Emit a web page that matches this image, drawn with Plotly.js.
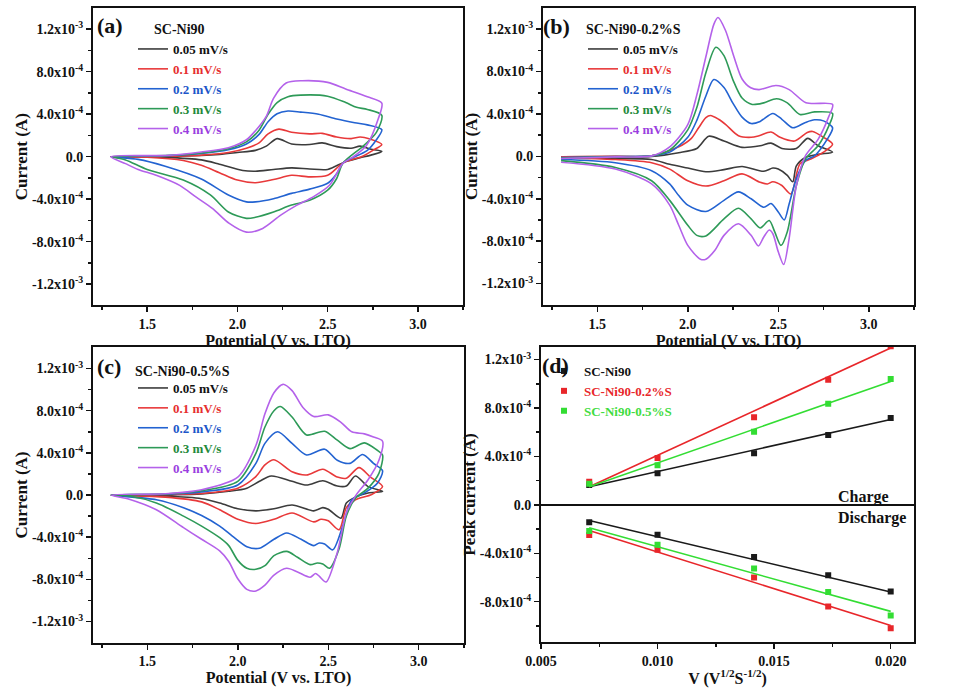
<!DOCTYPE html>
<html><head><meta charset="utf-8">
<script src="https://cdn.plot.ly/plotly-3.0.1.min.js"></script>
<style>html,body{margin:0;padding:0;background:#fff}#chart{width:960px;height:688px}</style>
</head><body><div id="chart"></div>
<script>
// ---------- data (potential in V, current in units of 1e-4 A) ----------
const UNIT = 1e-4;
const scanRates = ['0.05 mV/s', '0.1 mV/s', '0.2 mV/s', '0.3 mV/s', '0.4 mV/s'];

// (a) SC-Ni90
const a005 = [[1.3,0],[1.6,0.03],[1.8,0.12],[1.9,0.22],[2.0,0.4],[2.1,0.6],[2.16,1.0],[2.22,1.7],[2.3,1.2],[2.4,1.15],[2.47,1.3],[2.55,0.95],[2.63,0.8],[2.68,1.0],[2.74,0.7],[2.8,0.5],[2.74,0.15],[2.68,-0.1],[2.6,-0.45],[2.5,-1.2],[2.4,-1.15],[2.3,-1.05],[2.2,-1.2],[2.1,-1.37],[2.03,-1.3],[1.9,-0.7],[1.8,-0.3],[1.6,-0.06],[1.45,-0.02],[1.3,0]];
const a01 = [[1.3,0],[1.6,0.05],[1.8,0.15],[1.95,0.4],[2.05,0.8],[2.12,1.3],[2.17,2.15],[2.23,2.6],[2.3,2.3],[2.4,2.15],[2.47,2.2],[2.55,1.85],[2.63,1.7],[2.68,1.85],[2.73,1.7],[2.8,1.15],[2.75,0.6],[2.7,0.1],[2.585,-0.6],[2.5,-1.75],[2.4,-1.9],[2.3,-1.75],[2.2,-2.15],[2.1,-2.45],[2.0,-2.2],[1.9,-1.5],[1.8,-0.8],[1.7,-0.35],[1.5,-0.05],[1.3,0]];
const a02 = [[1.3,0],[1.6,0.08],[1.8,0.3],[1.95,0.65],[2.05,1.2],[2.12,2.1],[2.17,3.3],[2.22,4.05],[2.28,4.3],[2.35,4.2],[2.45,4.0],[2.55,3.55],[2.65,3.2],[2.72,3.0],[2.8,2.55],[2.77,1.6],[2.72,0.6],[2.585,-0.6],[2.55,-1.6],[2.5,-2.5],[2.4,-3.05],[2.3,-3.45],[2.2,-3.95],[2.1,-4.25],[2.05,-4.25],[1.95,-3.6],[1.8,-2.1],[1.6,-0.9],[1.45,-0.25],[1.3,0]];
const a03 = [[1.3,0],[1.6,0.1],[1.8,0.35],[1.95,0.75],[2.05,1.4],[2.12,2.5],[2.17,4.0],[2.22,5.1],[2.28,5.65],[2.35,5.8],[2.5,5.7],[2.6,5.1],[2.66,4.65],[2.72,4.45],[2.8,3.9],[2.77,2.3],[2.7,1.05],[2.585,-0.6],[2.55,-2.05],[2.5,-3.15],[2.4,-4.1],[2.3,-4.55],[2.2,-5.2],[2.1,-5.7],[2.05,-5.8],[1.95,-5.2],[1.85,-3.6],[1.7,-2.2],[1.5,-1.2],[1.38,-0.3],[1.3,0]];
const a04 = [[1.3,0],[1.6,0.12],[1.8,0.45],[1.95,0.85],[2.05,1.6],[2.1,2.45],[2.16,3.8],[2.2,5.5],[2.27,6.94],[2.36,7.15],[2.5,7.0],[2.6,6.38],[2.72,5.65],[2.8,5.05],[2.78,3.55],[2.715,1.06],[2.64,-0.03],[2.585,-0.6],[2.51,-2.69],[2.42,-3.78],[2.33,-4.56],[2.24,-5.5],[2.14,-6.75],[2.05,-7.1],[1.955,-6.28],[1.863,-4.88],[1.77,-3.78],[1.68,-2.7],[1.55,-1.75],[1.45,-1.2],[1.38,-0.65],[1.3,0]];

// (b) SC-Ni90-0.2%S
const b005 = [[1.3,-0.05],[1.6,-0.02],[1.8,0],[1.95,0.35],[2.05,0.75],[2.116,1.9],[2.2,1.45],[2.3,0.85],[2.4,1.0],[2.46,1.25],[2.52,0.75],[2.6,0.75],[2.663,1.7],[2.72,1.0],[2.8,0.4],[2.72,0.2],[2.65,-0.1],[2.6,-0.9],[2.58,-2.4],[2.55,-1.8],[2.5,-1.2],[2.47,-1.1],[2.42,-1.4],[2.3,-0.95],[2.2,-1.25],[2.1,-1.45],[2.0,-1.1],[1.9,-0.75],[1.8,-0.3],[1.6,-0.2],[1.3,-0.1]];
const b01 = [[1.3,-0.05],[1.6,0],[1.8,0.05],[1.95,0.9],[2.02,1.7],[2.06,2.7],[2.1,3.65],[2.125,3.85],[2.17,3.5],[2.21,3.0],[2.28,1.95],[2.35,1.8],[2.394,1.95],[2.46,2.3],[2.51,1.8],[2.59,1.45],[2.66,2.25],[2.69,2.35],[2.75,1.8],[2.8,1.15],[2.75,0.4],[2.68,-0.25],[2.62,-0.7],[2.57,-3.55],[2.52,-2.75],[2.47,-2.4],[2.44,-2.6],[2.4,-2.45],[2.3,-1.65],[2.2,-2.3],[2.1,-2.8],[2.0,-2.3],[1.9,-1.2],[1.8,-0.6],[1.6,-0.3],[1.3,-0.15]];
const b02 = [[1.3,-0.1],[1.6,-0.02],[1.8,0.05],[1.9,0.4],[2.0,1.8],[2.05,3.4],[2.1,5.7],[2.144,7.25],[2.2,6.5],[2.25,5.0],[2.3,3.7],[2.35,3.1],[2.4,3.3],[2.47,4.05],[2.52,3.5],[2.58,2.7],[2.65,3.2],[2.7,3.45],[2.75,3.35],[2.8,2.7],[2.77,1.6],[2.7,0.05],[2.65,-0.4],[2.6,-2.1],[2.56,-4.5],[2.533,-6.0],[2.5,-5.25],[2.46,-4.45],[2.42,-4.8],[2.35,-4.0],[2.28,-3.35],[2.2,-4.15],[2.1,-5.2],[2.0,-4.6],[1.95,-3.7],[1.9,-2.6],[1.8,-1.35],[1.6,-0.6],[1.3,-0.3]];
const b03 = [[1.3,-0.15],[1.6,-0.05],[1.8,0.05],[1.9,0.6],[2.0,2.5],[2.05,4.6],[2.1,7.9],[2.155,10.3],[2.2,9.5],[2.25,7.2],[2.3,5.5],[2.356,4.9],[2.42,5.05],[2.49,5.44],[2.55,5.05],[2.62,3.95],[2.7,4.2],[2.8,4.05],[2.78,2.9],[2.72,1.0],[2.65,-0.25],[2.6,-2.75],[2.55,-7.1],[2.515,-8.4],[2.48,-7.1],[2.45,-6.05],[2.4,-6.75],[2.35,-5.9],[2.28,-4.9],[2.2,-5.9],[2.1,-7.5],[2.05,-7.45],[2.0,-6.5],[1.9,-4.15],[1.8,-2.3],[1.6,-1.05],[1.3,-0.4]];
const b04 = [[1.3,-0.2],[1.6,-0.05],[1.8,0.05],[1.9,0.9],[2.0,3.0],[2.05,5.8],[2.1,9.4],[2.145,12.5],[2.167,13.1],[2.208,11.9],[2.255,9.4],[2.3,7.3],[2.348,6.47],[2.394,6.3],[2.487,6.68],[2.56,6.3],[2.653,5.06],[2.8,4.9],[2.78,3.8],[2.72,1.6],[2.65,0.05],[2.6,-2.75],[2.56,-7.75],[2.53,-10.2],[2.5,-9.0],[2.47,-7.3],[2.45,-6.95],[2.42,-7.6],[2.39,-8.45],[2.35,-7.45],[2.28,-6.35],[2.2,-7.45],[2.15,-8.85],[2.1,-9.7],[2.07,-9.7],[2.0,-8.4],[1.95,-6.5],[1.9,-4.6],[1.8,-2.6],[1.6,-1.2],[1.3,-0.55]];

// (c) SC-Ni90-0.5%S
const c005 = [[1.3,0],[1.6,0.03],[1.8,0.1],[1.95,0.35],[2.05,0.65],[2.12,1.3],[2.185,1.8],[2.3,1.3],[2.38,0.95],[2.47,1.35],[2.55,0.85],[2.6,0.85],[2.65,1.8],[2.72,0.8],[2.8,0.35],[2.72,0.2],[2.65,-0.2],[2.6,-0.75],[2.57,-2.2],[2.5,-1.35],[2.47,-1.2],[2.42,-1.5],[2.3,-0.95],[2.2,-1.3],[2.1,-1.5],[2.0,-1.3],[1.9,-0.75],[1.8,-0.35],[1.6,-0.1],[1.3,0]];
const c01 = [[1.3,0],[1.6,0.05],[1.8,0.15],[2.0,0.65],[2.1,1.75],[2.15,2.85],[2.2,3.35],[2.3,2.2],[2.38,1.9],[2.47,2.45],[2.55,1.7],[2.6,1.6],[2.67,2.6],[2.73,1.75],[2.8,0.8],[2.74,0.05],[2.65,-0.45],[2.6,-1.2],[2.56,-3.3],[2.5,-2.45],[2.46,-2.3],[2.42,-2.55],[2.3,-1.7],[2.2,-2.3],[2.1,-2.7],[2.0,-2.3],[1.9,-1.4],[1.8,-0.65],[1.6,-0.2],[1.3,0]];
const c02 = [[1.3,0],[1.6,0.08],[1.8,0.3],[2.0,0.95],[2.1,3.0],[2.15,4.9],[2.22,6.0],[2.3,4.9],[2.38,3.8],[2.48,4.35],[2.55,3.3],[2.62,3.0],[2.69,3.85],[2.75,3.0],[2.8,2.3],[2.77,1.1],[2.7,0.2],[2.63,-0.45],[2.58,-2.95],[2.525,-5.2],[2.48,-4.65],[2.45,-4.55],[2.42,-4.8],[2.35,-4.2],[2.27,-3.6],[2.2,-4.2],[2.12,-5.05],[2.05,-4.9],[1.97,-3.9],[1.9,-2.95],[1.8,-1.95],[1.7,-1.2],[1.55,-0.45],[1.3,0]];
const c03 = [[1.3,0],[1.6,0.1],[1.8,0.4],[2.0,1.3],[2.1,3.95],[2.15,6.45],[2.2,8.0],[2.235,8.4],[2.3,7.4],[2.38,5.7],[2.48,6.05],[2.55,5.2],[2.62,4.4],[2.7,4.95],[2.77,4.25],[2.8,3.8],[2.78,2.05],[2.72,0.65],[2.65,-0.3],[2.6,-2.0],[2.56,-5.1],[2.507,-6.95],[2.47,-6.55],[2.44,-6.45],[2.4,-6.6],[2.33,-5.9],[2.27,-5.35],[2.2,-5.75],[2.15,-6.7],[2.1,-7.05],[2.05,-6.95],[2.0,-6.2],[1.95,-4.8],[1.9,-4.05],[1.8,-2.95],[1.7,-2.0],[1.55,-0.75],[1.4,-0.1],[1.3,0]];
const c04 = [[1.3,0],[1.6,0.12],[1.8,0.5],[2.0,1.7],[2.1,4.7],[2.15,7.7],[2.2,9.7],[2.25,10.5],[2.3,9.9],[2.36,8.3],[2.42,7.45],[2.5,7.6],[2.57,6.9],[2.63,6.0],[2.7,5.8],[2.75,5.5],[2.8,5.1],[2.78,3.3],[2.72,1.45],[2.65,-0.1],[2.6,-1.7],[2.55,-5.45],[2.488,-8.25],[2.45,-7.7],[2.43,-7.45],[2.4,-7.8],[2.33,-7.3],[2.27,-6.95],[2.2,-7.6],[2.15,-8.55],[2.1,-9.1],[2.05,-8.95],[2.0,-7.95],[1.95,-6.3],[1.9,-5.3],[1.8,-4.2],[1.7,-3.1],[1.55,-1.4],[1.4,-0.4],[1.3,0]];

// (d) peak current vs square root of scan rate
const sqrtScan = [0.00707, 0.01, 0.01414, 0.01732, 0.02];
const chargeNi90 = [1.63, 2.6, 4.27, 5.77, 7.18];
const charge02S = [1.9, 3.86, 7.24, 10.34, 13.1];
const charge05S = [1.74, 3.27, 6.04, 8.35, 10.4];
const dischargeNi90 = [-1.44, -2.48, -4.3, -5.82, -7.16];
const discharge02S = [-2.5, -3.7, -6.0, -8.4, -10.2];
const discharge05S = [-2.15, -3.3, -5.25, -7.2, -9.15];
// linear fit lines, endpoints
const fitX = [0.00707, 0.02];
const fitChargeNi90 = [1.5, 7.05];
const fitCharge02S = [1.5, 12.95];
const fitCharge05S = [1.5, 10.18];
const fitDischargeNi90 = [-1.3, -7.2];
const fitDischarge02S = [-2.12, -9.96];
const fitDischarge05S = [-1.9, -8.8];
const materials = ['SC-Ni90', 'SC-Ni90-0.2%S', 'SC-Ni90-0.5%S'];

const cvYTickVals = [-1.2e-3, -8e-4, -4e-4, 0, 4e-4, 8e-4, 1.2e-3];
const cvYTickText = ['-1.2x10<sup>-3</sup>', '-8.0x10<sup>-4</sup>', '-4.0x10<sup>-4</sup>', '0.0', '4.0x10<sup>-4</sup>', '8.0x10<sup>-4</sup>', '1.2x10<sup>-3</sup>'];
const dYTickVals = [-8e-4, -4e-4, 0, 4e-4, 8e-4, 1.2e-3];
const dYTickText = ['-8.0x10<sup>-4</sup>', '-4.0x10<sup>-4</sup>', '0.0', '4.0x10<sup>-4</sup>', '8.0x10<sup>-4</sup>', '1.2x10<sup>-3</sup>'];

// ---------- styles ----------
const FAM = '"Liberation Serif", "Times New Roman", serif';
const INK = '#111111';
const cvColors = ['#3c3c3c', '#e8393a', '#2363d1', '#2e9a58', '#b462ea'];
const cvTextColors = ['#111111', '#e62e2e', '#1d56c9', '#23893a', '#9b3fe0'];
const dColors = ['#1a1a1a', '#e8262a', '#33dd33'];
const dTextColors = ['#111111', '#e8262a', '#3fdc3f'];

function toX(c) { return c.map(p => p[0]); }
function toY(c) { return c.map(p => p[1] * UNIT); }
function scale(arr) { return arr.map(v => v * UNIT); }

function cvTraces(curves, xa, ya, leg) {
  return curves.map((c, i) => ({
    type: 'scatter', mode: 'lines', x: toX(c), y: toY(c),
    line: {color: cvColors[i], width: 1.6, shape: 'spline', smoothing: 0.8},
    name: '<span style="color:' + cvTextColors[i] + '">' + scanRates[i] + '</span>',
    xaxis: xa, yaxis: ya, legend: leg, hoverinfo: 'skip'
  }));
}

const traces = [].concat(
  cvTraces([a005, a01, a02, a03, a04], 'x', 'y', 'legend'),
  cvTraces([b005, b01, b02, b03, b04], 'x2', 'y2', 'legend2'),
  cvTraces([c005, c01, c02, c03, c04], 'x3', 'y3', 'legend3')
);

const dCharge = [chargeNi90, charge02S, charge05S];
const dDischarge = [dischargeNi90, discharge02S, discharge05S];
const dFitC = [fitChargeNi90, fitCharge02S, fitCharge05S];
const dFitD = [fitDischargeNi90, fitDischarge02S, fitDischarge05S];
for (let i = 0; i < 3; i++) {
  [dFitC[i], dFitD[i]].forEach(f => traces.push({
    type: 'scatter', mode: 'lines', x: fitX, y: scale(f),
    line: {color: dColors[i], width: 1.6}, showlegend: false,
    xaxis: 'x4', yaxis: 'y4', hoverinfo: 'skip'
  }));
  traces.push({
    type: 'scatter', mode: 'markers', x: sqrtScan, y: scale(dCharge[i]),
    marker: {symbol: 'square', size: 6, color: dColors[i]},
    name: '<span style="color:' + dTextColors[i] + '">' + materials[i] + '</span>',
    legendgroup: 'm' + i, legend: 'legend4',
    xaxis: 'x4', yaxis: 'y4', hoverinfo: 'skip'
  });
  traces.push({
    type: 'scatter', mode: 'markers', x: sqrtScan, y: scale(dDischarge[i]),
    marker: {symbol: 'square', size: 6, color: dColors[i]},
    legendgroup: 'm' + i, showlegend: false, legend: 'legend4',
    xaxis: 'x4', yaxis: 'y4', hoverinfo: 'skip'
  });
}

const tickFont = {family: FAM, size: 14, weight: 'bold', color: INK};
const titleFont = {family: FAM, size: 16, weight: 'bold', color: INK};
const minorStyle = {ticks: 'outside', ticklen: 3, tickwidth: 1.5, tickcolor: INK};
function baseAxis(extra) {
  return Object.assign({
    showline: true, linewidth: 2, linecolor: INK, mirror: true,
    ticks: 'outside', ticklen: 5, tickwidth: 1.5, tickcolor: INK,
    showgrid: false, zeroline: false, tickfont: tickFont, fixedrange: true
  }, extra);
}
function cvX(domain, anchor) {
  return baseAxis({domain: domain, anchor: anchor, range: [1.2, 3.25],
    tickmode: 'array', tickvals: [1.5, 2.0, 2.5, 3.0], ticktext: ['1.5', '2.0', '2.5', '3.0'],
    minor: Object.assign({tickmode: 'array', tickvals: [1.25, 1.75, 2.25, 2.75, 3.25]}, minorStyle),
    title: {text: 'Potential (V vs. LTO)', font: titleFont, standoff: 3}});
}
function cvY(domain, anchor) {
  return baseAxis({domain: domain, anchor: anchor, range: [-1.4e-3, 1.4e-3],
    tickmode: 'array', tickvals: cvYTickVals, ticktext: cvYTickText,
    minor: Object.assign({tickmode: 'array', tickvals: [-1e-3, -6e-4, -2e-4, 2e-4, 6e-4, 1e-3]}, minorStyle),
    title: {text: 'Current (A)', font: {family: FAM, size: 17, weight: 'bold', color: INK}, standoff: 0}});
}
function legendAt(x, y) {
  return {x: x, y: y, xanchor: 'left', yanchor: 'top', bgcolor: 'rgba(0,0,0,0)', borderwidth: 0,
    font: {family: FAM, size: 13, weight: 'bold', color: INK}, tracegroupgap: 0, itemwidth: 30};
}
function note(text, x, y, size, xanchor) {
  return {text: text, xref: 'paper', yref: 'paper', x: x / 960, y: 1 - y / 688,
    xanchor: xanchor || 'left', yanchor: 'middle', showarrow: false,
    font: {family: FAM, size: size, weight: 'bold', color: INK}};
}

const layout = {
  width: 960, height: 688, margin: {l: 0, r: 0, t: 0, b: 0},
  paper_bgcolor: '#ffffff', plot_bgcolor: '#ffffff',
  font: {family: FAM, color: INK},
  xaxis: cvX([0.0969, 0.4823], 'y'),
  yaxis: cvY([0.5560, 0.9884], 'x'),
  xaxis2: cvX([0.5656, 0.9521], 'y2'),
  yaxis2: cvY([0.5570, 0.9884], 'x2'),
  xaxis3: cvX([0.0969, 0.4833], 'y3'),
  yaxis3: cvY([0.0660, 0.4950], 'x3'),
  xaxis4: baseAxis({domain: [0.5635, 0.9521], anchor: 'y4', range: [0.005, 0.021],
    tickmode: 'array', tickvals: [0.005, 0.010, 0.015, 0.020], ticktext: ['0.005', '0.010', '0.015', '0.020'],
    minor: Object.assign({tickmode: 'array', tickvals: [0.0075, 0.0125, 0.0175]}, minorStyle),
    title: {text: 'V (V<sup>1/2</sup>S<sup>-1/2</sup>)', font: titleFont, standoff: 3}}),
  yaxis4: baseAxis({domain: [0.0665, 0.4960], anchor: 'x4', range: [-1.135e-3, 1.306e-3],
    tickmode: 'array', tickvals: dYTickVals, ticktext: dYTickText,
    minor: Object.assign({tickmode: 'array', tickvals: [-1e-3, -6e-4, -2e-4, 2e-4, 6e-4, 1e-3]}, minorStyle),
    zeroline: true, zerolinewidth: 2, zerolinecolor: INK,
    title: {text: 'Peak current (A)', font: {family: FAM, size: 17, weight: 'bold', color: INK}, standoff: 0}}),
  legend: legendAt(133 / 960, 1 - 34 / 688),
  legend2: legendAt(583 / 960, 1 - 34 / 688),
  legend3: legendAt(133 / 960, 1 - 373 / 688),
  legend4: legendAt(544 / 960, 1 - 356 / 688),
  annotations: [
    note('(a)', 95, 26, 22), note('SC-Ni90', 152, 30, 14),
    note('(b)', 541, 27, 22), note('SC-Ni90-0.2%S', 584, 30, 14),
    note('(c)', 95, 367, 22), note('SC-Ni90-0.5%S', 133, 371, 14),
    note('(d)', 540, 366, 22),
    note('Charge', 891, 497, 16, 'right'), note('Discharge', 908, 518, 16, 'right')
  ],
  showlegend: true
};

Plotly.newPlot('chart', traces, layout, {displayModeBar: false, staticPlot: true});
</script>
</body></html>
